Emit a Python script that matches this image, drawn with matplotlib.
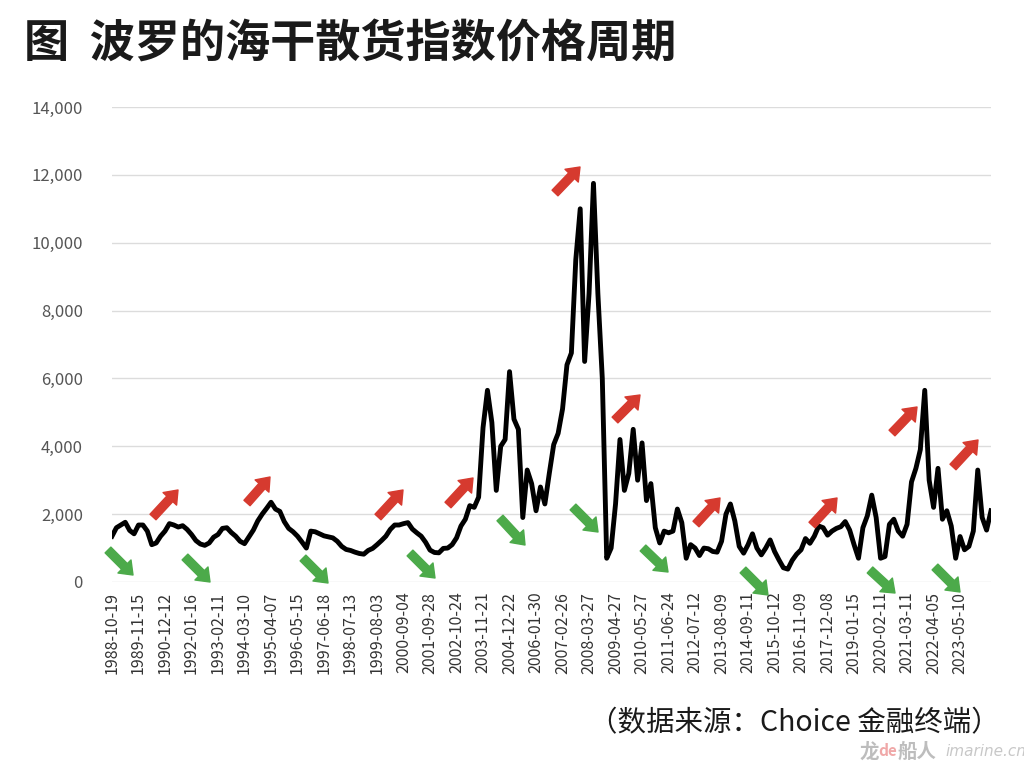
import numpy as np
import matplotlib.pyplot as plt
from matplotlib.ticker import FuncFormatter

plt.rcParams['font.family'] = ['Noto Sans CJK SC', 'DejaVu Sans']

# 波罗的海干散货指数 (BDI), 6 points per label interval
bdi = [
    1350, 1600, 1680, 1760, 1520, 1420, 1680, 1680, 1500, 1100,
    1150, 1350, 1500, 1720, 1680, 1620, 1660, 1550, 1400, 1220,
    1120, 1080, 1150, 1320, 1400, 1580, 1600, 1460, 1350, 1200,
    1130, 1330, 1530, 1800, 2000, 2170, 2350, 2150, 2080, 1780,
    1580, 1480, 1350, 1180, 1000, 1500, 1480, 1420, 1360, 1330,
    1300, 1200, 1050, 960, 930, 880, 840, 820, 930, 990,
    1100, 1220, 1350, 1550, 1680, 1680, 1720, 1750, 1560, 1450,
    1350, 1170, 940, 870, 860, 990, 1000, 1100, 1300, 1650,
    1850, 2250, 2200, 2500, 4550, 5650, 4700, 2700, 4000, 4200,
    6200, 4800, 4500, 1900, 3300, 2900, 2100, 2800, 2300, 3200,
    4050, 4380, 5100, 6400, 6750, 9500, 11000, 6500, 8500, 11750,
    8500, 6000, 700, 1000, 2300, 4200, 2700, 3200, 4500, 3000,
    4100, 2400, 2900, 1600, 1150, 1500, 1450, 1500, 2150, 1750,
    700, 1100, 1000, 780, 1000, 980, 900, 880, 1200, 2000,
    2300, 1800, 1050, 850, 1100, 1420, 1000, 800, 1000, 1240,
    900, 650, 420, 380, 640, 820, 950, 1280, 1140, 1350,
    1650, 1600, 1380, 1500, 1580, 1630, 1780, 1530, 1100, 700,
    1600, 1950, 2560, 1900, 700, 750, 1700, 1850, 1500, 1350,
    1700, 2950, 3350, 3900, 5650, 3000, 2200, 3350, 1850, 2100,
    1650, 700, 1340, 950, 1050, 1500, 3300, 1900, 1530, 2100,
]

tick_labels = [
    '1988-10-19', '1989-11-15', '1990-12-12', '1992-01-16', '1993-02-11',
    '1994-03-10', '1995-04-07', '1996-05-15', '1997-06-18', '1998-07-13',
    '1999-08-03', '2000-09-04', '2001-09-28', '2002-10-24', '2003-11-21',
    '2004-12-22', '2006-01-30', '2007-02-26', '2008-03-27', '2009-04-27',
    '2010-05-27', '2011-06-24', '2012-07-12', '2013-08-09', '2014-09-11',
    '2015-10-12', '2016-11-09', '2017-12-08', '2019-01-15', '2020-02-11',
    '2021-03-11', '2022-04-05', '2023-05-10',
]

# 周期箭头 (tail, head) in image pixels
up_arrows = [((153, 517), (178, 490)), ((247, 503), (270, 477)),
             ((378, 517), (403, 490)), ((448, 505), (473, 478)),
             ((555, 193), (580, 167)), ((615, 420), (640, 395)),
             ((696, 524), (720, 498)), ((812, 525), (837, 498)),
             ((892, 433), (917, 407)), ((953, 467), (978, 440))]
down_arrows = [((108, 550), (133, 575)), ((185, 557), (210, 582)),
               ((303, 558), (328, 583)), ((410, 553), (435, 578)),
               ((500, 518), (525, 545)), ((573, 507), (598, 532)),
               ((643, 548), (668, 572)), ((743, 570), (768, 595)),
               ((870, 570), (895, 593)), ((935, 567), (960, 592))]

fig = plt.figure(figsize=(10.24, 7.68), dpi=100)
ax = fig.add_axes([112 / 1024, 1 - 582 / 768, 879 / 1024, 475 / 768])

x = np.arange(len(bdi))
ax.plot(x, bdi, color='black', lw=3.5, solid_joinstyle='round')

ax.set_xlim(0, len(bdi) - 1)
ax.set_ylim(0, 14000)
ax.set_yticks(range(0, 14001, 2000))
ax.yaxis.set_major_formatter(FuncFormatter(lambda v, p: f'{int(v):,}'))
ax.set_xticks(np.arange(len(tick_labels)) * 6)
ax.set_xticklabels(tick_labels, rotation=90)
ax.tick_params(axis='x', length=0, pad=7, labelsize=11.5, labelcolor='#333333')
ax.tick_params(axis='y', length=0, pad=21, labelsize=12, labelcolor='#555555')
ax.grid(axis='y', color='#dcdcdc', lw=1)
ax.set_axisbelow(True)
for s in ax.spines.values():
    s.set_visible(False)

arrow_style = 'simple,head_length=0.62,head_width=0.95,tail_width=0.42'
for arrows, col in [(up_arrows, '#d63a2f'), (down_arrows, '#4caa4a')]:
    for (tx, ty), (hx, hy) in arrows:
        ax.annotate('', xy=(hx, 768 - hy), xytext=(tx, 768 - ty),
                    xycoords='figure pixels', textcoords='figure pixels',
                    arrowprops=dict(arrowstyle=arrow_style, color=col,
                                    mutation_scale=14, shrinkA=0, shrinkB=0))

fig.text(24 / 1024, 1 - 45 / 768, '图  波罗的海干散货指数价格周期',
         fontsize=32.5, fontweight='bold', ha='left', va='center', color='#1a1a1a')
fig.text(1000 / 1024, 1 - 723 / 768, '（数据来源：Choice 金融终端）',
         fontsize=20.5, ha='right', va='center', color='#1a1a1a')

# 水印
fig.text(860 / 1024, 1 - 752 / 768, '龙', fontsize=14, fontweight='bold',
         color='#bdbdbd', va='center')
fig.text(878 / 1024, 1 - 751 / 768, 'de', fontsize=11, fontweight='bold',
         style='italic', color='#f0a8a8', va='center')
fig.text(898 / 1024, 1 - 752 / 768, '船人', fontsize=14, fontweight='bold',
         color='#bdbdbd', va='center')
fig.text(945 / 1024, 1 - 752 / 768, 'imarine.cn', fontsize=11, style='italic',
         color='#c8c8c8', va='center', family='DejaVu Sans')

fig.savefig('out.png', dpi=100)
